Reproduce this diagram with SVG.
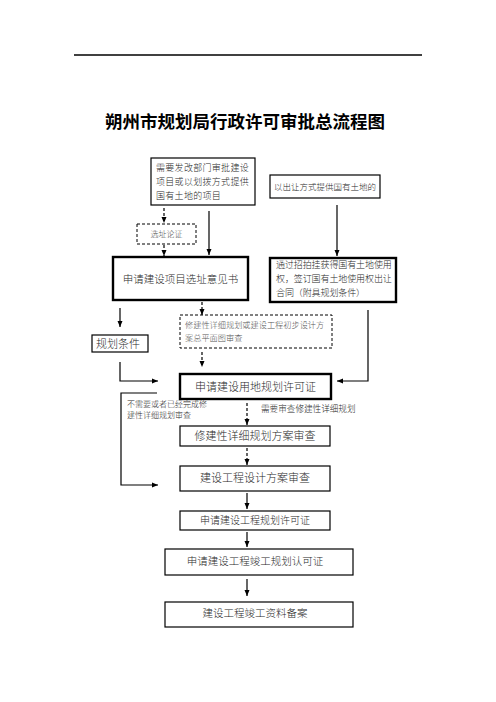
<svg xmlns="http://www.w3.org/2000/svg" width="496" height="702" viewBox="0 0 496 702">
<style>
.t{font-family:"Noto Sans CJK SC","Noto Sans",sans-serif;fill:#2a2a2a;font-weight:300}
.g{fill:#555}
.b{fill:#fff;stroke:#000;stroke-width:1.2}
.bk{fill:#fff;stroke:#000;stroke-width:2.4}
.d{fill:#fff;stroke:#000;stroke-width:1;stroke-dasharray:3,2}
.c{fill:none;stroke:#000;stroke-width:1.2;marker-end:url(#a)}
.cd{fill:none;stroke:#000;stroke-width:1.2;stroke-dasharray:3,2;marker-end:url(#a)}
</style>
<defs>
<marker id="a" viewBox="0 0 6 6" refX="6" refY="3" markerWidth="6" markerHeight="6" markerUnits="userSpaceOnUse" orient="auto">
<path d="M0,0.5 L6,3 L0,5.5 Z" fill="#000"/>
</marker>
</defs>
<rect width="496" height="702" fill="#fff"/>
<line x1="74" y1="55" x2="422" y2="55" stroke="#000" stroke-width="1.3"/>
<text x="245" y="128" font-size="17.5" font-weight="bold" text-anchor="middle" fill="#000" font-family="Noto Sans CJK SC, sans-serif">朔州市规划局行政许可审批总流程图</text>

<g id="connectors">
<path class="cd" d="M164,208 V223"/>
<path class="cd" d="M164,245 V256"/>
<path class="c" d="M209,211 V255"/>
<path class="c" d="M337,205 V256"/>
<path class="c" d="M120,308 V327"/>
<path class="cd" d="M202,302 V315"/>
<path class="cd" d="M202,352 V367"/>
<path class="c" d="M120,362 V381 H158"/>
<path class="c" d="M368,310 V381 H337"/>
<path class="c" d="M157,393 H121 V485 H158"/>
<path class="cd" d="M247,403 V425"/>
<path class="cd" d="M247,448 V465"/>
<path class="c" d="M247,493 V509"/>
<path class="c" d="M247,532 V547"/>
<path class="c" d="M247,579 V596"/>
</g>

<g id="n1">
<rect class="b" x="151" y="158" width="104" height="47"/>
<text class="t" font-size="9" letter-spacing="0.3">
<tspan x="156" y="171">需要发改部门审批建设</tspan>
<tspan x="156" y="185">项目或以划拨方式提供</tspan>
<tspan x="156" y="199">国有土地的项目</tspan>
</text>
</g>
<g id="n2">
<rect class="b" x="270" y="175" width="110" height="23"/>
<text class="t" x="325" y="190" font-size="8.5" text-anchor="middle">以出让方式提供国有土地的</text>
</g>
<g id="n3">
<rect class="d" x="137" y="224" width="59" height="20"/>
<text class="t g" x="166.5" y="237" font-size="8" text-anchor="middle">选址论证</text>
</g>
<g id="n4">
<rect class="bk" x="113" y="257" width="135" height="43"/>
<text class="t" x="180.5" y="283" font-size="10.5" text-anchor="middle">申请建设项目选址意见书</text>
</g>
<g id="n5">
<rect class="bk" x="270" y="258" width="126" height="44"/>
<text class="t" font-size="9" letter-spacing="-0.1">
<tspan x="276" y="268">通过招拍挂获得国有土地使用</tspan>
<tspan x="276" y="282">权，签订国有土地使用权出让</tspan>
<tspan x="276" y="296">合同（附具规划条件）</tspan>
</text>
</g>
<g id="n6">
<rect class="b" x="92" y="335" width="56" height="17"/>
<text class="t" x="96" y="347.5" font-size="11">规划条件</text>
</g>
<g id="n7">
<rect class="d" x="180" y="315" width="152" height="33"/>
<text class="t g" font-size="8.2">
<tspan x="185" y="328">修建性详细规划或建设工程初步设计方</tspan>
<tspan x="185" y="341">案总平面图审查</tspan>
</text>
</g>
<g id="n8">
<rect class="bk" x="180" y="374" width="151" height="25"/>
<text class="t" x="255.5" y="391" font-size="11" text-anchor="middle">申请建设用地规划许可证</text>
</g>
<g id="l1">
<text class="t" font-size="8">
<tspan x="127" y="407">不需要或者已经完成修</tspan>
<tspan x="127" y="417.5">建性详细规划审查</tspan>
</text>
</g>
<g id="l2">
<text class="t" x="261" y="412" font-size="8.6">需要审查修建性详细规划</text>
</g>
<g id="n9">
<rect class="b" x="180" y="426" width="150" height="20"/>
<text class="t" x="255" y="440" font-size="11" text-anchor="middle">修建性详细规划方案审查</text>
</g>
<g id="n10">
<rect class="b" x="180" y="466" width="150" height="25"/>
<text class="t" x="255" y="482" font-size="11" text-anchor="middle">建设工程设计方案审查</text>
</g>
<g id="n11">
<rect class="b" x="180" y="511" width="150" height="19" stroke-width="1.8"/>
<text class="t" x="255" y="524" font-size="10" text-anchor="middle">申请建设工程规划许可证</text>
</g>
<g id="n12">
<rect class="b" x="165" y="549" width="188" height="26"/>
<text class="t" x="255" y="565" font-size="10.5" text-anchor="middle">申请建设工程竣工规划认可证</text>
</g>
<g id="n13">
<rect class="b" x="165" y="602" width="188" height="25"/>
<text class="t" x="255" y="617" font-size="10.5" text-anchor="middle">建设工程竣工资料备案</text>
</g>
</svg>
